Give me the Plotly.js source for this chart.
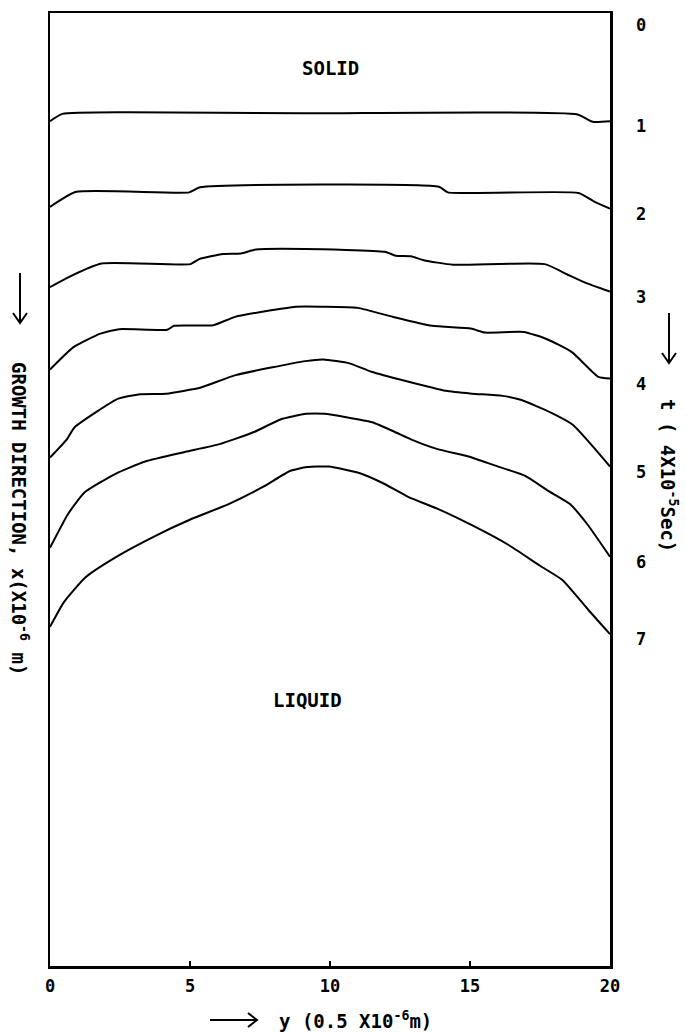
<!DOCTYPE html>
<html><head><meta charset="utf-8">
<script src="https://cdn.plot.ly/plotly-3.0.1.min.js"></script>
<style>html,body{margin:0;padding:0;background:#fff;}#chart{width:686px;height:1033px;}</style>
</head><body><div id="chart"></div>
<script>
// horizontal position y (0.5e-6 m units) and interface position x (1e-6 m), measured downward from the top frame
const xTicks = [0, 5, 10, 15, 20];
const timeLabels = ['0', '1', '2', '3', '4', '5', '6', '7'];

const pos1 = [0, 0.44, 2.76, 9.0, 18.84, 19.38, 20];
const front1 = [1.93, 1.80, 1.77, 1.79, 1.81, 1.94, 1.93];

const pos2 = [0, 0.94, 4.97, 5.36, 13.89, 14.21, 18.88, 19.42, 20];
const front2 = [3.46, 3.19, 3.20, 3.11, 3.10, 3.20, 3.21, 3.36, 3.49];

const pos3 = [0, 0.67, 1.84, 5.01, 5.33, 6.18, 6.82, 7.35, 9.07, 11.96, 12.35, 12.89, 13.35, 14.39, 17.67, 18.46, 19.07, 20];
const front3 = [4.89, 4.71, 4.47, 4.48, 4.39, 4.30, 4.29, 4.22, 4.21, 4.26, 4.33, 4.34, 4.41, 4.49, 4.48, 4.66, 4.80, 4.97];

const pos4 = [0, 0.84, 1.80, 2.47, 4.19, 4.43, 5.83, 6.61, 8.78, 9.74, 10.99, 12.24, 13.64, 15.03, 15.53, 16.92, 17.71, 18.64, 19.58, 20];
const front4 = [6.36, 5.96, 5.72, 5.64, 5.65, 5.58, 5.57, 5.42, 5.24, 5.24, 5.26, 5.42, 5.58, 5.63, 5.70, 5.69, 5.81, 6.05, 6.49, 6.52];

const pos5 = [0, 0.61, 0.88, 2.44, 3.22, 4.15, 5.39, 6.63, 9.12, 9.76, 10.70, 11.48, 12.74, 14.13, 15.06, 16.16, 16.81, 17.89, 18.68, 19.47, 20];
const front5 = [7.93, 7.60, 7.39, 6.88, 6.80, 6.79, 6.68, 6.46, 6.21, 6.18, 6.25, 6.40, 6.57, 6.74, 6.79, 6.83, 6.90, 7.13, 7.35, 7.78, 8.09];

const pos6 = [0, 0.64, 1.24, 2.34, 3.40, 4.82, 6.06, 7.31, 8.23, 9.15, 9.79, 10.58, 11.51, 12.30, 12.91, 13.84, 14.95, 15.88, 16.99, 17.78, 18.57, 19.19, 20];
const front6 = [9.54, 8.94, 8.55, 8.22, 8.00, 7.83, 7.69, 7.47, 7.25, 7.15, 7.15, 7.21, 7.30, 7.47, 7.61, 7.78, 7.91, 8.07, 8.26, 8.52, 8.76, 9.12, 9.70];

const pos7 = [0, 0.51, 1.28, 2.37, 3.75, 4.99, 6.38, 7.62, 8.57, 9.18, 9.96, 11.07, 11.86, 12.79, 13.87, 15.12, 16.38, 17.50, 18.29, 18.76, 19.23, 20];
const front7 = [10.95, 10.50, 10.06, 9.70, 9.33, 9.04, 8.76, 8.45, 8.17, 8.10, 8.09, 8.21, 8.38, 8.63, 8.85, 9.15, 9.49, 9.86, 10.11, 10.37, 10.65, 11.08];

const posSets = [pos1, pos2, pos3, pos4, pos5, pos6, pos7];
const frontSets = [front1, front2, front3, front4, front5, front6, front7];

const FONT = 'DejaVu Sans Mono, Liberation Mono, monospace';
const L = 50, R = 610, T = 13, B = 966, W = 686, H = 1033;
const P = (px, py) => ({x: (px - L) / (R - L), y: (B - py) / (B - T)});
const f = (size) => ({family: FONT, size: size, color: '#000', weight: 'bold'});

const traces = posSets.map((p, i) => ({
  x: p, y: frontSets[i], type: 'scatter', mode: 'lines',
  line: {color: '#000', width: 2, shape: 'spline', smoothing: 0.5},
  hoverinfo: 'skip', showlegend: false
}));

const annotations = [];
const txt = (px, py, text, size, extra) => {
  const q = P(px, py);
  annotations.push(Object.assign({xref: 'paper', yref: 'paper', x: q.x, y: q.y, text: text,
    showarrow: false, xanchor: 'center', yanchor: 'middle', font: f(size)}, extra || {}));
};
txt(330, 68, 'SOLID', 19);
txt(307, 700, 'LIQUID', 19);
txt(20, 518, 'GROWTH DIRECTION, x(X10<sup>-6</sup> m)', 19, {textangle: 90});
txt(669, 475, 't ( 4X10<sup>-5</sup>Sec)', 19, {textangle: 90});
txt(356, 1020, 'y (0.5 X10<sup>-6</sup>m)', 19);

// time labels at the right end of each front
const labelXs = P(641, 0).x;
annotations.push({xref: 'paper', yref: 'y', x: labelXs, y: 0, text: timeLabels[0], showarrow: false,
  xanchor: 'center', yanchor: 'middle', yshift: -12, font: f(17)});
frontSets.forEach((fr, i) => {
  annotations.push({xref: 'paper', yref: 'y', x: labelXs, y: fr[fr.length - 1], text: timeLabels[i + 1], showarrow: false,
    xanchor: 'center', yanchor: 'middle', yshift: -5, font: f(17)});
});

const shapes = [];
const line = (a, b) => { const p = P(a[0], a[1]), q = P(b[0], b[1]);
  shapes.push({type: 'line', xref: 'paper', yref: 'paper', x0: p.x, y0: p.y, x1: q.x, y1: q.y, line: {color: '#000', width: 2}}); };
const vee = (a, b, c) => { const p = P(a[0], a[1]), q = P(b[0], b[1]), r = P(c[0], c[1]);
  shapes.push({type: 'path', xref: 'paper', yref: 'paper', path: `M${p.x},${p.y} L${q.x},${q.y} L${r.x},${r.y}`, line: {color: '#000', width: 2}}); };
line([20, 273], [20, 323]); vee([13, 313], [20, 323], [27, 313]);
line([669, 313], [669, 363]); vee([662, 353], [669, 363], [676, 353]);
line([210, 1020], [257, 1020]); vee([248, 1013], [257, 1020], [248, 1027]);

const layout = {
  width: W, height: H,
  margin: {l: L, r: W - R, t: T, b: H - B, pad: 0},
  paper_bgcolor: '#fff', plot_bgcolor: '#fff',
  showlegend: false,
  xaxis: {range: [0, 20], tickvals: xTicks, ticktext: xTicks.map(String),
    ticks: 'inside', ticklen: 5, tickwidth: 1.5, tickcolor: '#000',
    showline: true, mirror: true, linecolor: '#000', linewidth: 2.5,
    showgrid: false, zeroline: false, ticklabelstandoff: 3,
    tickfont: f(17)},
  yaxis: {range: [17.0, 0], showticklabels: false, ticks: '',
    showline: true, mirror: true, linecolor: '#000', linewidth: 2.5,
    showgrid: false, zeroline: false},
  annotations: annotations, shapes: shapes
};
Plotly.newPlot('chart', traces, layout, {staticPlot: true, displayModeBar: false});
</script></body></html>
